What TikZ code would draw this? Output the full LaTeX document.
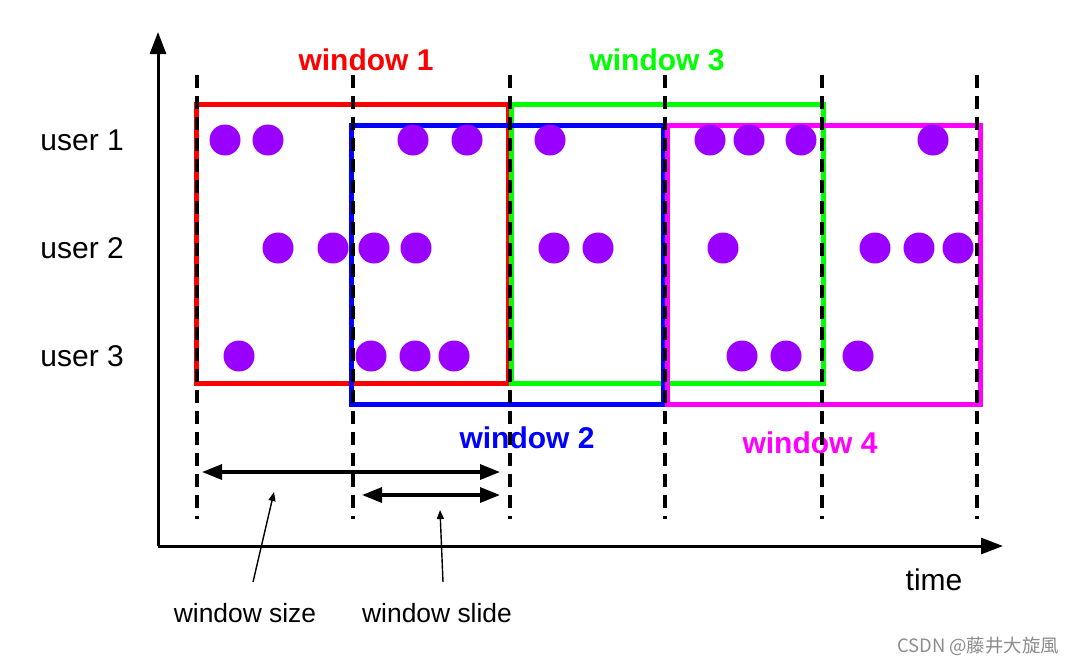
\documentclass[tikz,border=0pt]{standalone}
\usepackage{fontspec}
\setmainfont{Liberation Sans}
\newfontfamily\cjkfont{Noto Sans CJK SC}
\usetikzlibrary{arrows.meta,positioning}
\definecolor{WinRed}{RGB}{255,0,0}
\definecolor{WinGreen}{RGB}{0,255,0}
\definecolor{WinBlue}{RGB}{0,0,255}
\definecolor{WinPink}{RGB}{255,0,255}
\definecolor{EvPurple}{RGB}{153,0,255}
\tikzset{
  axisline/.style={-{Triangle[length=11pt,width=8pt]},line width=1.5pt},
  slot/.style={line width=1.6pt,dash pattern=on 6.5pt off 4pt},
  win/.style={line width=2.5pt},
  wlabel/.style={font=\fontsize{15}{18}\selectfont\bfseries,inner sep=0pt},
  ulabel/.style={font=\fontsize{15}{18}\selectfont,anchor=west,inner sep=0pt},
  note/.style={font=\fontsize{13.2}{16}\selectfont,inner sep=0pt},
  event/.style={fill=EvPurple},
  span/.style={{Triangle[length=10pt,width=7.5pt]}-{Triangle[length=10pt,width=7.5pt]},
               line width=1.6pt},
  pointer/.style={-{Triangle[length=4.5pt,width=3.5pt]},line width=0.7pt},
}

\begin{document}
\begin{tikzpicture}[x=0.5pt,y=-0.5pt]
  \useasboundingbox (0,0) rectangle (1080,665);
  % windows
  \draw[win,WinRed]   (196,104) rectangle (508,383);
  \draw[win,WinGreen] (511,104) rectangle (823,383);
  \draw[win,WinBlue]  (351,125) rectangle (663,404);
  \draw[win,WinPink]  (667,125) rectangle (980,404);
  \node[wlabel,text=WinRed]   (w1) at (366,60)  {window 1};
  \node[wlabel,text=WinBlue]  (w2) at (527,438) {window 2};
  \node[wlabel,text=WinGreen] (w3) at (657,60)  {window 3};
  \node[wlabel,text=WinPink]  (w4) at (810,443) {window 4};
  % users and events
  \node[ulabel] (u1) at (40,140) {user 1};
  \node[ulabel] (u2) at (40,248) {user 2};
  \node[ulabel] (u3) at (40,356) {user 3};
  \foreach \x in {225,268,413,467,550,710,749,801,933}
    \fill[event] (\x,140) circle (15.5);
  \foreach \x in {278,333,374,416,554,598,723,875,919,958}
    \fill[event] (\x,248) circle (15.5);
  \foreach \x in {239,371,415,454,742,786,858}
    \fill[event] (\x,356) circle (15.5);
  % time slots
  \foreach \x [count=\i] in {197,353,510,665,822,977}{
    \coordinate (t\i) at (\x,75);
    \coordinate (b\i) at (\x,519);
    \draw[slot] (t\i) -- (b\i);
  }
  % axes
  \coordinate (O) at (158,546);
  \coordinate (ytop) at (158,32);
  \coordinate (xend) at (1003,546);
  \draw[axisline] (O) -- (ytop);
  \draw[axisline] (O) -- (xend);
  \node[note,font=\fontsize{15}{18}\selectfont] (time) at (934,580) {time};
  % size and slide
  \coordinate (sizeL) at (202,472);
  \coordinate (sizeR) at (500,472);
  \coordinate (slideL) at (362,495);
  \coordinate (slideR) at (500,495);
  \draw[span] (sizeL) -- (sizeR);
  \draw[span] (slideL) -- (slideR);
  \node[note] (sizetxt) at (245,613) {window size};
  \node[note] (slidetxt) at (437,613) {window slide};
  \coordinate (sizefoot) at (253,582);
  \coordinate (sizetip) at (274,492);
  \coordinate (slidefoot) at (443,582);
  \coordinate (slidetip) at (440,510);
  \draw[pointer] (sizefoot) -- (sizetip);
  \draw[pointer] (slidefoot) -- (slidetip);
  \node[font=\cjkfont\fontsize{9.2}{11}\selectfont,text=black!45,inner sep=0pt]
    (mark) at (978,646) {CSDN @藤井大旋風};
\end{tikzpicture}
\end{document}
